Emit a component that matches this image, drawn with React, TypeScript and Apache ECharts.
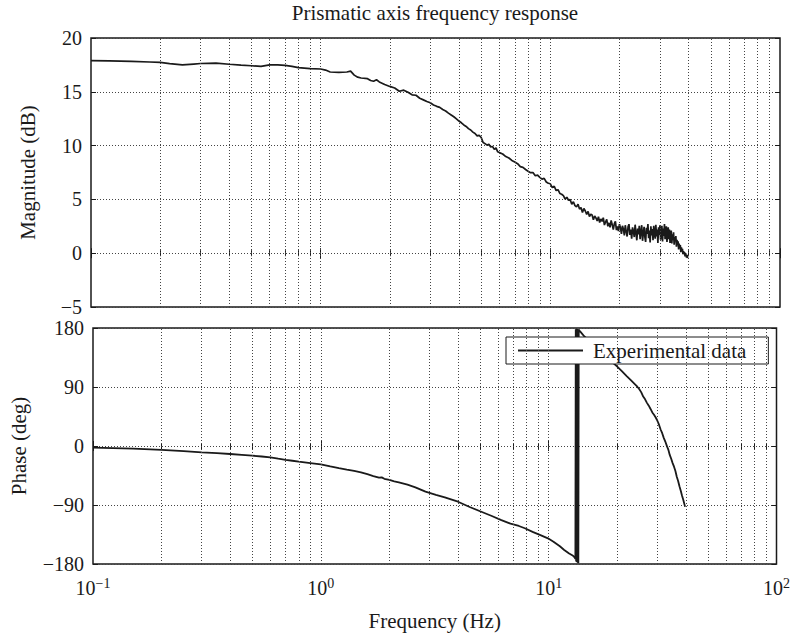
import React, { useEffect, useRef } from 'react';
import * as echarts from 'echarts';

const chartTitle = 'Prismatic axis frequency response';
const xAxisName = 'Frequency (Hz)';
const magAxisName = 'Magnitude (dB)';
const phaseAxisName = 'Phase (deg)';
const seriesName = 'Experimental data';

const freqRange = [0.1, 100];
const magRange = [-5, 20, 5];
const phaseRange = [-180, 180, 90];
const gridFreqs = [0.2, 0.3, 0.4, 0.5, 0.6, 0.7, 0.8, 0.9, 1, 2, 3, 4, 5, 6, 7, 8, 9, 10, 20, 30, 40, 50, 60, 70, 80, 90];

const magnitudeData: number[][] = [
  [0.1, 17.9], [0.12, 17.87], [0.15, 17.82], [0.18, 17.77], [0.2, 17.73], [0.22, 17.62], [0.25, 17.5],
  [0.28, 17.58], [0.3, 17.63], [0.35, 17.66], [0.4, 17.56], [0.45, 17.48], [0.5, 17.42], [0.55, 17.36],
  [0.6, 17.5], [0.65, 17.5], [0.7, 17.46], [0.75, 17.36], [0.8, 17.24], [0.9, 17.16], [1.0, 17.12],
  [1.05, 17.02], [1.1, 16.84], [1.2, 16.8], [1.3, 16.84], [1.35, 16.92], [1.4, 16.55], [1.45, 16.36],
  [1.5, 16.28], [1.6, 16.22], [1.65, 16.05], [1.7, 15.98], [1.75, 16.12], [1.8, 15.92], [1.9, 15.68],
  [2.0, 15.5], [2.1, 15.35], [2.2, 15.05], [2.3, 15.15], [2.4, 14.95], [2.5, 14.72], [2.6, 14.68],
  [2.7, 14.4], [2.8, 14.25], [2.9, 14.1], [3.0, 13.98], [3.1, 13.78], [3.2, 13.65], [3.3, 13.55],
  [3.4, 13.35], [3.5, 13.22], [3.6, 13.02], [3.7, 12.85], [3.8, 12.68], [3.9, 12.48], [4.0, 12.28],
  [4.1, 12.12], [4.2, 11.92], [4.3, 11.78], [4.4, 11.58], [4.5, 11.45], [4.6, 11.25], [4.7, 11.12],
  [4.8, 10.9], [4.9, 10.95], [5.0, 10.75], [5.1, 10.28], [5.2, 10.18], [5.3, 10.05], [5.4, 10.12],
  [5.5, 9.88], [5.6, 9.92], [5.7, 9.65], [5.8, 9.78], [5.9, 9.42], [6.0, 9.35], [6.2, 9.22],
  [6.4, 8.98], [6.6, 8.85], [6.8, 8.62], [7.0, 8.48], [7.2, 8.32], [7.4, 8.05], [7.6, 7.98],
  [7.8, 7.78], [8.0, 7.62], [8.2, 7.48], [8.4, 7.5], [8.6, 7.2], [8.8, 7.26], [9.0, 7.05],
  [9.2, 6.88], [9.4, 6.95], [9.6, 6.62], [9.8, 6.5], [10.0, 6.45], [10.2, 6.1], [10.4, 6.22],
  [10.6, 5.82], [10.8, 5.9], [11.0, 5.55], [11.2, 5.48], [11.4, 5.35], [11.6, 5.02], [11.8, 5.2],
  [12.0, 4.92], [12.2, 4.98], [12.4, 4.55], [12.6, 4.78], [12.8, 4.42], [13.0, 4.3], [13.2, 4.55],
  [13.4, 4.1], [13.6, 4.25], [13.8, 3.78], [14.0, 4.15], [14.2, 3.92], [14.4, 3.6], [14.6, 3.88],
  [14.8, 3.4], [15.0, 3.62], [15.2, 3.55], [15.4, 3.1], [15.6, 3.45], [15.8, 3.28], [16.0, 3.0],
  [16.2, 3.4], [16.4, 2.85], [16.6, 3.18], [16.8, 2.95], [17.0, 3.3], [17.2, 2.62], [17.4, 2.9],
  [17.6, 3.15], [17.8, 2.5], [18.0, 2.82], [18.2, 2.4], [18.4, 3.05], [18.6, 2.65], [18.8, 2.2],
  [19.0, 2.75], [19.2, 2.95], [19.4, 2.15], [19.6, 2.5], [19.8, 2.05], [20.0, 2.7], [20.2, 2.35],
  [20.4, 1.8], [20.6, 2.55], [20.8, 2.25], [21.0, 1.65], [21.2, 2.6], [21.4, 2.0], [21.6, 1.55],
  [21.8, 2.45], [22.0, 2.7], [22.2, 1.7], [22.4, 2.2], [22.6, 1.35], [22.8, 2.4], [23.0, 2.05],
  [23.2, 1.5], [23.4, 2.65], [23.6, 1.9], [23.8, 1.2], [24.0, 2.3], [24.2, 1.75], [24.4, 2.55],
  [24.6, 1.3], [24.8, 2.0], [25.0, 2.6], [25.2, 1.15], [25.4, 1.85], [25.6, 2.45], [25.8, 1.5],
  [26.0, 1.05], [26.2, 2.35], [26.4, 1.8], [26.6, 2.7], [26.8, 1.4], [27.0, 2.1], [27.2, 1.0],
  [27.4, 2.5], [27.6, 1.65], [27.8, 2.25], [28.0, 1.2], [28.2, 2.55], [28.4, 1.9], [28.6, 1.35],
  [28.8, 2.65], [29.0, 1.55], [29.2, 2.2], [29.4, 0.95], [29.6, 2.4], [29.8, 1.7], [30.0, 2.6],
  [30.2, 1.25], [30.4, 1.95], [30.6, 2.55], [30.8, 1.1], [31.0, 2.3], [31.2, 1.6], [31.4, 2.7],
  [31.6, 1.3], [31.8, 2.15], [32.0, 2.5], [32.2, 1.05], [32.4, 1.9], [32.6, 2.4], [32.8, 1.3],
  [33.0, 2.2], [33.2, 0.95], [33.4, 1.85], [33.6, 2.1], [33.8, 0.9], [34.0, 1.75], [34.2, 1.2],
  [34.4, 1.95], [34.6, 0.8], [34.8, 1.5], [35.0, 1.1], [35.2, 1.6], [35.4, 0.6], [35.6, 1.25],
  [35.8, 0.85], [36.0, 1.1], [36.2, 0.35], [36.4, 0.9], [36.6, 0.5], [36.8, 0.75], [37.0, 0.1],
  [37.2, 0.55], [37.4, 0.25], [37.6, 0.4], [37.8, -0.1], [38.0, 0.2], [38.2, -0.05], [38.4, 0.1],
  [38.6, -0.3], [38.8, 0.0], [39.0, -0.2], [39.2, -0.4], [39.4, -0.15], [39.6, -0.45],
];

const phaseData: number[][] = [
  [0.1, -2.6], [0.15, -4], [0.2, -6], [0.25, -7.8], [0.3, -9.6], [0.35, -11], [0.4, -12.2],
  [0.45, -13.5], [0.5, -14.8], [0.55, -16], [0.6, -17.3], [0.65, -19.3], [0.7, -21], [0.75, -22.5],
  [0.8, -23.9], [0.9, -26], [1.0, -27.9], [1.1, -31.2], [1.2, -33.8], [1.3, -36], [1.4, -38],
  [1.5, -40.1], [1.6, -43], [1.7, -45.8], [1.8, -48.3], [1.85, -47.8], [1.9, -50], [2.0, -51.8],
  [2.1, -53.8], [2.2, -55.4], [2.4, -59], [2.6, -63], [2.88, -69.7], [3.2, -74.5], [3.5, -78.5],
  [4.0, -85], [4.5, -93], [5.0, -99.5], [5.63, -106.8], [6.2, -113], [6.8, -118.5], [7.4, -122],
  [7.86, -125.5], [8.5, -131], [9.2, -136], [9.93, -140.8], [10.5, -146], [11.2, -153], [11.7, -158.6],
  [12.3, -164], [12.8, -167.5], [13.0, -170], [13.1, -172], [13.15, 178], [13.2, -176], [13.25, 179],
  [13.3, -177], [13.35, 178.5], [13.4, -178], [13.45, 177.5], [13.5, -179], [13.55, 178], [13.6, 176.5],
  [13.8, 174], [14.0, 171.5], [14.35, 167], [15.0, 161], [16.0, 152], [17.0, 143.5], [18.0, 135.6],
  [19.0, 128.1], [20.0, 121], [21.0, 113.7], [22.0, 106.6], [23.0, 100], [24.0, 93.6], [24.5, 90.5],
  [25.0, 86.5], [25.5, 81.8], [26.0, 75.4], [26.5, 71.2], [27.0, 65.8], [27.5, 61.5], [28.0, 56.5],
  [28.5, 51.2], [29.0, 47.6], [29.5, 43.5], [29.9, 39.7], [30.5, 32.5], [31.0, 25.2], [31.5, 19.5],
  [32.0, 12.4], [32.5, 6.8], [33.1, -1], [33.5, -5.5], [34.0, -13.6], [34.5, -19.5], [35.0, -26.1],
  [35.5, -31.5], [36.0, -38.2], [36.5, -46.8], [37.0, -53.5], [37.5, -61.5], [38.0, -68.2],
  [38.5, -75.8], [39.0, -82.5], [39.5, -89.8], [39.7, -92.6],
];

const FONT = 'Liberation Serif';
const INK = '#1a1a1a';

const minus = (v: number) => String(v).replace('-', '\u2212');
const powLabel = (v: number) => {
  const e = Math.round(Math.log10(v));
  return `{b|10}{s|${e < 0 ? '\u2212' + -e : e}}`;
};

function xAx(gridIndex: number, position: 'top' | 'bottom', labels: boolean): any {
  return {
    type: 'log',
    logBase: 10,
    gridIndex,
    position,
    min: freqRange[0],
    max: freqRange[1],
    axisLine: { show: false },
    axisTick: { show: true, inside: true, length: 5, lineStyle: { color: INK, width: 1 } },
    minorTick: { show: true, splitNumber: 9, length: 3, lineStyle: { color: INK, width: 1 } },
    splitLine: { show: false },
    axisLabel: labels
      ? {
          show: true,
          formatter: powLabel,
          margin: 12,
          rich: {
            b: { fontFamily: FONT, fontSize: 20, color: INK },
            s: { fontFamily: FONT, fontSize: 14, color: INK, padding: [0, 0, 10, 0] },
          },
        }
      : { show: false },
    name: labels ? xAxisName : '',
    nameLocation: 'middle',
    nameGap: 46,
    nameTextStyle: { fontFamily: FONT, fontSize: 21, color: INK },
  };
}

function yAx(gridIndex: number, position: 'left' | 'right', range: number[], name: string, nameGap: number): any {
  const labels = position === 'left';
  return {
    type: 'value',
    gridIndex,
    position,
    min: range[0],
    max: range[1],
    interval: range[2],
    axisLine: { show: false },
    axisTick: { show: true, inside: true, length: 5, lineStyle: { color: INK, width: 1 } },
    splitLine: labels
      ? { show: true, lineStyle: { color: '#444', width: 1, type: [1, 2] } }
      : { show: false },
    axisLabel: labels
      ? { show: true, formatter: minus, fontFamily: FONT, fontSize: 20, color: INK, margin: 9 }
      : { show: false },
    name: labels ? name : '',
    nameLocation: 'middle',
    nameGap,
    nameTextStyle: { fontFamily: FONT, fontSize: 21, color: INK },
  };
}

const gridMarkLine = {
  silent: true,
  symbol: ['none', 'none'],
  label: { show: false },
  lineStyle: { color: '#444', width: 1, type: [1, 2] },
  data: gridFreqs.map((f) => ({ xAxis: f })),
};

export default function App() {
  const ref = useRef<HTMLDivElement>(null);
  useEffect(() => {
    if (!ref.current) return;
    const chart = echarts.init(ref.current, null, { renderer: 'svg' });
    chart.setOption({
      animation: false,
      backgroundColor: '#fff',
      title: {
        text: chartTitle,
        left: 435,
        top: 2,
        padding: 0,
        textAlign: 'center',
        textStyle: { fontFamily: FONT, fontSize: 21, fontWeight: 'normal', color: INK },
      },
      legend: {
        data: [seriesName],
        left: 506,
        top: 337,
        padding: [3, 22, 3, 12],
        icon: 'rect',
        itemWidth: 65,
        itemHeight: 2,
        backgroundColor: '#fff',
        borderColor: INK,
        borderWidth: 1,
        borderRadius: 0,
        itemStyle: { color: INK },
        textStyle: { fontFamily: FONT, fontSize: 21, color: INK, padding: [0, 0, 0, 5] },
      },
      grid: [
        { left: 91, top: 38, width: 689, height: 269, show: true, borderColor: INK, borderWidth: 1.5, backgroundColor: 'transparent' },
        { left: 91, top: 328, width: 689, height: 236, show: true, borderColor: INK, borderWidth: 1.5, backgroundColor: 'transparent' },
      ],
      xAxis: [xAx(0, 'bottom', false), xAx(0, 'top', false), xAx(1, 'bottom', true), xAx(1, 'top', false)],
      yAxis: [
        yAx(0, 'left', magRange, magAxisName, 53),
        yAx(0, 'right', magRange, '', 0),
        yAx(1, 'left', phaseRange, phaseAxisName, 64),
        yAx(1, 'right', phaseRange, '', 0),
      ],
      series: [
        {
          name: 'grid-mag',
          type: 'line',
          xAxisIndex: 0,
          yAxisIndex: 0,
          data: [],
          z: 1,
          markLine: gridMarkLine,
        },
        {
          name: 'grid-phase',
          type: 'line',
          xAxisIndex: 2,
          yAxisIndex: 2,
          data: [],
          z: 1,
          markLine: gridMarkLine,
        },
        {
          name: seriesName,
          type: 'line',
          xAxisIndex: 0,
          yAxisIndex: 0,
          data: magnitudeData,
          showSymbol: false,
          symbol: 'none',
          z: 3,
          lineStyle: { color: INK, width: 1.7 },
          itemStyle: { color: INK },
        },
        {
          name: seriesName,
          type: 'line',
          xAxisIndex: 2,
          yAxisIndex: 2,
          data: phaseData,
          showSymbol: false,
          symbol: 'none',
          z: 3,
          lineStyle: { color: INK, width: 1.8 },
          itemStyle: { color: INK },
        },
      ],
    });
    return () => chart.dispose();
  }, []);
  return <div ref={ref} style={{ position: 'fixed', left: 0, top: 0, width: 793, height: 636 }} />;
}
